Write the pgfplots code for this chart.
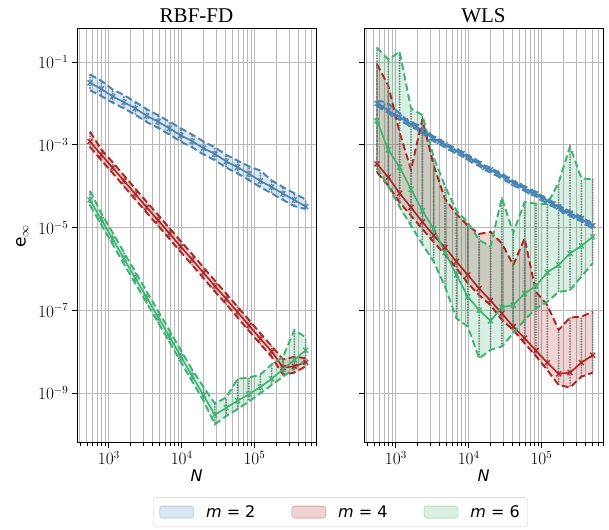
\documentclass[border=0pt]{standalone}
\usepackage{fontspec}
\usepackage{pgfplots}
\pgfplotsset{compat=1.18}
\usepgfplotslibrary{fillbetween}
\usepackage{pgfplotstable}
\newfontfamily\dejavu{DejaVu Sans}
\newfontfamily\tnr{Liberation Serif}
\definecolor{cblue}{RGB}{70,130,180}
\definecolor{cred}{RGB}{178,34,34}
\definecolor{cgreen}{RGB}{60,179,113}
\definecolor{cgrey}{RGB}{110,125,115}
\definecolor{cgrid}{RGB}{185,185,185}

% RBF-FD, m=2
\pgfplotstableread{
N lo med hi
550 2.089e-2 3.162e-2 5.012e-2
787 1.514e-2 2.239e-2 3.548e-2
1127 1.047e-2 1.479e-2 2.188e-2
1614 7.586e-3 1.072e-2 1.585e-2
2312 5.370e-3 7.586e-3 1.096e-2
3311 3.548e-3 5.012e-3 7.244e-3
4742 2.570e-3 3.631e-3 5.248e-3
6792 1.778e-3 2.512e-3 3.631e-3
9727 1.202e-3 1.698e-3 2.512e-3
13932 8.710e-4 1.230e-3 1.778e-3
19953 5.888e-4 8.318e-4 1.202e-3
28576 4.266e-4 6.026e-4 8.710e-4
40926 2.818e-4 3.981e-4 5.754e-4
58614 2.042e-4 2.884e-4 4.169e-4
83946 1.413e-4 1.995e-4 3.020e-4
120226 9.550e-5 1.349e-4 2.399e-4
172187 6.761e-5 9.550e-5 1.380e-4
246604 4.677e-5 6.607e-5 9.550e-5
353183 3.311e-5 4.677e-5 6.761e-5
505825 2.818e-5 3.236e-5 4.786e-5
}\rbfA
% RBF-FD, m=4
\pgfplotstableread{
N lo med hi
550 8.913e-4 1.202e-3 2.089e-3
787 4.266e-4 5.754e-4 7.762e-4
1127 2.089e-4 2.818e-4 3.802e-4
1614 1.000e-4 1.349e-4 1.820e-4
2312 4.786e-5 6.457e-5 8.710e-5
3311 2.291e-5 3.090e-5 4.169e-5
4742 1.122e-5 1.514e-5 2.042e-5
6792 5.370e-6 7.244e-6 9.772e-6
9727 2.570e-6 3.467e-6 4.677e-6
13932 1.259e-6 1.698e-6 2.291e-6
19953 6.026e-7 8.128e-7 1.096e-6
28576 2.884e-7 3.890e-7 5.248e-7
40926 1.413e-7 1.905e-7 2.570e-7
58614 6.761e-8 9.120e-8 1.230e-7
83946 3.236e-8 4.365e-8 5.888e-8
120226 1.549e-8 2.089e-8 2.818e-8
172187 7.586e-9 1.023e-8 1.380e-8
246604 2.818e-9 4.169e-9 6.607e-9
353183 3.162e-9 4.467e-9 7.586e-9
505825 4.467e-9 5.623e-9 7.079e-9
}\rbfB
% RBF-FD, m=6
\pgfplotstableread{
N lo med hi
550 3.467e-5 4.677e-5 7.762e-5
787 1.175e-5 1.585e-5 2.239e-5
1127 3.981e-6 5.370e-6 7.586e-6
1614 1.318e-6 1.778e-6 2.512e-6
2312 4.467e-7 6.026e-7 8.511e-7
3311 1.514e-7 2.042e-7 2.884e-7
4742 5.129e-8 6.918e-8 9.772e-8
6792 1.738e-8 2.344e-8 3.311e-8
9727 5.754e-9 7.762e-9 1.096e-8
13932 1.950e-9 2.630e-9 3.715e-9
19953 6.607e-10 8.913e-10 1.413e-9
28576 1.778e-10 3.020e-10 5.623e-10
40926 2.818e-10 4.467e-10 7.943e-10
58614 4.169e-10 6.607e-10 2.239e-9
83946 6.310e-10 9.550e-10 2.399e-9
120226 1.000e-9 1.413e-9 2.818e-9
172187 1.585e-9 2.239e-9 5.012e-9
246604 2.512e-9 3.802e-9 7.586e-9
353183 3.981e-9 6.457e-9 3.388e-8
505825 6.310e-9 1.096e-8 2.239e-8
}\rbfC
% WLS, m=2
\pgfplotstableread{
N lo med hi
550 8.710e-3 1.000e-2 1.122e-2
658 7.244e-3 8.318e-3 1.122e-2
787 5.888e-3 6.761e-3 1.000e-2
942 4.677e-3 5.370e-3 7.586e-3
1127 4.074e-3 4.677e-3 5.754e-3
1349 3.311e-3 3.802e-3 4.266e-3
1614 2.754e-3 3.162e-3 3.548e-3
1932 2.399e-3 2.754e-3 3.090e-3
2312 1.862e-3 2.138e-3 2.399e-3
2767 1.549e-3 1.778e-3 1.995e-3
3311 1.230e-3 1.413e-3 1.585e-3
3963 1.047e-3 1.202e-3 1.349e-3
4742 8.710e-4 1.000e-3 1.122e-3
5675 7.244e-4 8.318e-4 9.333e-4
6792 6.166e-4 7.079e-4 7.943e-4
8128 5.370e-4 6.166e-4 6.918e-4
9727 4.365e-4 5.012e-4 5.623e-4
11641 3.631e-4 4.169e-4 4.677e-4
13932 3.090e-4 3.548e-4 3.981e-4
16672 2.455e-4 2.818e-4 3.162e-4
19953 2.188e-4 2.512e-4 2.818e-4
23878 1.820e-4 2.089e-4 2.344e-4
28576 1.549e-4 1.778e-4 1.995e-4
34198 1.288e-4 1.479e-4 1.660e-4
40926 1.047e-4 1.202e-4 1.349e-4
48978 9.120e-5 1.047e-4 1.175e-4
58614 7.762e-5 8.913e-5 1.000e-4
70146 6.457e-5 7.413e-5 8.318e-5
83946 5.754e-5 6.607e-5 7.413e-5
100462 4.571e-5 5.248e-5 5.888e-5
120226 3.890e-5 4.467e-5 5.012e-5
143880 3.236e-5 3.715e-5 4.169e-5
172187 2.754e-5 3.162e-5 3.548e-5
206063 2.188e-5 2.512e-5 2.818e-5
246604 1.950e-5 2.239e-5 2.512e-5
295121 1.622e-5 1.862e-5 2.089e-5
353183 1.445e-5 1.660e-5 1.862e-5
422669 1.148e-5 1.318e-5 1.479e-5
505825 9.772e-6 1.122e-5 1.259e-5
}\wlsA
% WLS, m=4
\pgfplotstableread{
N lo med hi
550 2.188e-4 3.467e-4 8.913e-2
787 1.023e-4 1.660e-4 2.692e-2
1127 4.074e-5 6.761e-5 1.995e-3
1614 1.950e-5 3.090e-5 2.512e-4
2312 9.333e-6 1.380e-5 4.074e-3
3311 4.467e-6 6.457e-6 3.162e-4
4742 2.239e-6 3.311e-6 4.898e-5
6792 1.047e-6 1.514e-6 2.138e-5
9727 4.571e-7 7.244e-7 1.122e-5
13932 2.344e-7 3.388e-7 7.079e-6
19953 1.349e-7 1.738e-7 7.943e-6
28576 5.888e-8 8.511e-8 4.169e-6
40926 3.388e-8 4.074e-8 1.259e-6
58614 1.622e-8 2.138e-8 5.495e-6
83946 7.943e-9 1.072e-8 2.818e-7
120226 3.631e-9 5.495e-9 1.349e-7
172187 1.585e-9 2.951e-9 3.388e-8
246604 1.380e-9 3.162e-9 6.761e-8
353183 2.512e-9 5.495e-9 7.079e-8
505825 3.162e-9 8.318e-9 9.333e-8
}\wlsB
% WLS, m=6
\pgfplotstableread{
N lo med hi
550 2.818e-4 3.802e-3 2.239e-1
787 1.000e-4 7.586e-4 1.148e-1
1127 3.162e-5 2.884e-4 1.778e-1
1614 1.122e-5 8.511e-5 7.586e-3
2312 3.981e-6 2.570e-5 5.248e-3
3311 1.514e-6 9.333e-6 5.012e-4
4742 3.715e-7 2.512e-6 1.000e-4
6792 6.457e-8 7.244e-7 2.570e-5
9727 4.074e-8 2.138e-7 1.349e-5
13932 6.918e-9 1.023e-7 5.012e-6
19953 1.122e-8 5.623e-8 3.548e-6
28576 1.349e-8 1.202e-7 5.248e-5
40926 2.818e-8 1.349e-7 7.586e-6
58614 5.888e-8 2.570e-7 4.169e-5
83946 1.122e-7 3.890e-7 3.802e-5
120226 1.622e-7 8.318e-7 3.715e-5
172187 2.818e-7 1.259e-6 1.230e-4
246604 3.090e-7 2.399e-6 9.120e-4
353183 6.607e-7 3.631e-6 1.549e-4
505825 1.380e-6 6.026e-6 1.479e-4
}\wlsC

\newcommand{\mlab}[1]{{\dejavu{\itshape m} = #1}}

\newcommand{\bandfill}[3]{%
  \addplot[draw=none, name path=#3hi, forget plot] table[x=N,y=hi]{#1};
  \addplot[draw=none, name path=#3lo, forget plot] table[x=N,y=lo]{#1};
  \addplot[fill=#2, fill opacity=0.2, draw=none, forget plot] fill between[of=#3hi and #3lo];
}
\newcommand{\greybars}[1]{%
  \addplot[draw=none, mark=none, forget plot,
    error bars/.cd, y dir=both, y explicit, error mark=none,
    error bar style={draw=cgrey, line width=2pt, line cap=round, dash pattern=on 0pt off 2.6pt}]
    table[x=N, y=med, y error plus expr=\thisrow{hi}-\thisrow{med}, y error minus expr=\thisrow{med}-\thisrow{lo}]{#1};
}
\newcommand{\bandlines}[2]{%
  \addplot[#2, line width=1.9pt, dash pattern=on 7pt off 3.5pt, forget plot] table[x=N,y=hi]{#1};
  \addplot[#2, line width=1.9pt, dash pattern=on 7pt off 3.5pt, forget plot] table[x=N,y=lo]{#1};
  \addplot[#2, line width=1.6pt, mark=x, mark size=3.5pt, mark options={solid, line width=1.3pt}, forget plot] table[x=N,y=med]{#1};
}

\pgfplotsset{
  mypatch/.style={legend image code/.code={\draw[##1, line width=0.8pt] (0pt,-6pt) rectangle (34pt,6pt);}},
  every axis/.append style={
  scale only axis, width=239pt, height=414pt,
  xmin=365, xmax=7e5, ymin=6.3e-11, ymax=0.63,
  xtick={1e3,1e4,1e5},
  minor xtick={400,500,600,700,800,900,2000,3000,4000,5000,6000,7000,8000,9000,20000,30000,40000,50000,60000,70000,80000,90000,200000,300000,400000,500000,600000,700000},
  ytick={1e-9,1e-7,1e-5,1e-3,1e-1},
  xmajorgrids, xminorgrids, ymajorgrids,
  major grid style={cgrid, line width=1pt},
  minor grid style={cgrid, line width=1pt},
  tick align=outside, xtick pos=left, ytick pos=left,
  major tick length=5pt, minor tick length=3pt,
  tick style={black, line width=0.8pt},
  axis line style={black, line width=1pt},
  tick label style={font=\fontsize{16}{18}\selectfont},
  title style={font=\tnr\fontsize{21}{24}\selectfont, yshift=-3pt},
  xlabel style={font=\fontsize{16}{18}\selectfont, yshift=2pt},
  },
}

\begin{document}
\begin{tikzpicture}
\begin{loglogaxis}[title={RBF-FD},
  xlabel={\dejavu\itshape N},
  ylabel={\dejavu e$_{\infty}$},
  ylabel style={font=\fontsize{17}{18}\selectfont, xshift=0pt, yshift=3pt},
  legend columns=3,
  legend style={at={(1.1025,-0.131)}, anchor=north, draw=black!18, rounded corners=3pt,
    font=\fontsize{16}{18}\selectfont, inner xsep=6pt, inner ysep=6pt,
    /tikz/every odd column/.append style={column sep=10pt},
    /tikz/every even column/.append style={column sep=34pt}},
  legend cell align=left]
  \addlegendimage{mypatch, fill=cblue, fill opacity=0.2, draw=cblue, draw opacity=0.3}
  \addlegendimage{mypatch, fill=cred, fill opacity=0.2, draw=cred, draw opacity=0.3}
  \addlegendimage{mypatch, fill=cgreen, fill opacity=0.2, draw=cgreen, draw opacity=0.3}
  \legend{\mlab{2},\mlab{4},\mlab{6}}
  \bandfill{\rbfA}{cblue}{ra}
  \greybars{\rbfA}
  \bandlines{\rbfA}{cblue}
  \bandfill{\rbfB}{cred}{rb}
  \greybars{\rbfB}
  \bandlines{\rbfB}{cred}
  \bandfill{\rbfC}{cgreen}{rc}
  \greybars{\rbfC}
  \bandlines{\rbfC}{cgreen}
\end{loglogaxis}
\begin{loglogaxis}[at={(287pt,0pt)}, title={WLS}, xlabel={\dejavu\itshape N}, yticklabels={}]
  \bandfill{\wlsA}{cblue}{wa}
  \bandlines{\wlsA}{cblue}
  \bandfill{\wlsB}{cred}{wb}
  \greybars{\wlsB}
  \bandlines{\wlsB}{cred}
  \bandfill{\wlsC}{cgreen}{wc}
  \greybars{\wlsC}
  \bandlines{\wlsC}{cgreen}
\end{loglogaxis}
\pgfresetboundingbox
\path[use as bounding box] (-77pt,-86pt) rectangle (532pt,443pt);
\end{tikzpicture}
\end{document}
